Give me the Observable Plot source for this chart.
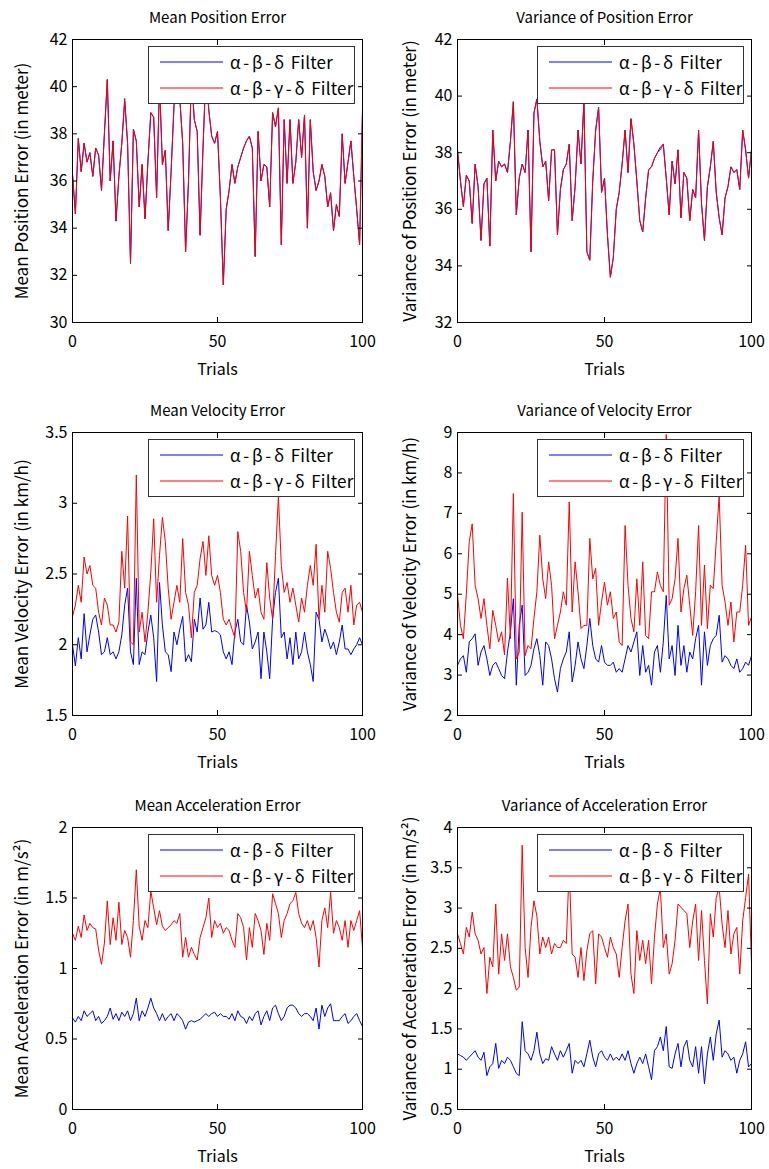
<!DOCTYPE html>
<html>
<head>
<meta charset="utf-8">
<script src="https://cdn.jsdelivr.net/npm/d3@7"></script>
<script src="https://cdn.jsdelivr.net/npm/@observablehq/plot@0.6"></script>
<style>
  body { margin: 0; background: #fff; }
  #root { position: relative; width: 769px; height: 1169px; overflow: hidden; font-family: "Noto Sans CJK JP", "Noto Sans", sans-serif; }
  .panel { position: absolute; }
  .panel svg { display: block; overflow: visible; }
  .legend { position: absolute; width: 207px; height: 58px; box-sizing: border-box; border: 1px solid #333; background: #fff; font-size: 17px; color: #000; }
  .legend .row { position: absolute; left: 0; right: 0; height: 0; }
  .legend svg.sw { position: absolute; left: 11px; top: -2px; overflow: visible; }
  .legend .lbl { position: absolute; left: 81px; top: -12px; line-height: 24px; white-space: nowrap; letter-spacing: 0.2px; }
  .legend .gk { letter-spacing: 2.7px; }
</style>
</head>
<body>
<div id="root"></div>
<script>
// ---------- data ----------
const trialTicks = [0, 50, 100];
const seriesGreek = ["α-β-δ", "α-β-γ-δ"];
const seriesSuffix = " Filter";
const seriesColors = ["#0000ff", "#ff0000"];

const titles = ["Mean Position Error", "Variance of Position Error", "Mean Velocity Error", "Variance of Velocity Error", "Mean Acceleration Error", "Variance of Acceleration Error"];
const yLabels = ["Mean Position Error (in meter)", "Variance of Position Error (in meter)", "Mean Velocity Error (in km/h)", "Variance of Velocity Error (in km/h)", "Mean Acceleration Error (in m/s²)", "Variance of Acceleration Error (in m/s²)"];
const xLabel = "Trials";

const posMeanTicks = [30, 32, 34, 36, 38, 40, 42];
const posVarTicks = [32, 34, 36, 38, 40, 42];
const velMeanTicks = [1.5, 2, 2.5, 3, 3.5];
const velVarTicks = [2, 3, 4, 5, 6, 7, 8, 9];
const accMeanTicks = [0, 0.5, 1, 1.5, 2];
const accVarTicks = [0.5, 1, 1.5, 2, 2.5, 3, 3.5, 4];

const posMeanAbd = [36.3,34.6,37.8,36.4,37.6,36.8,37.2,36.2,37.4,37.1,35.6,38.0,40.3,36.0,37.7,34.3,36.2,37.6,39.4,37.6,32.5,38.2,37.7,34.9,36.7,34.4,36.8,38.9,38.7,35.3,40.2,36.7,37.3,33.9,36.4,39.2,40.5,39.5,37.6,33.0,36.0,40.5,38.6,38.1,33.7,37.4,40.6,39.0,37.9,37.6,38.1,35.3,31.6,34.8,35.6,36.7,35.9,36.6,37.0,37.4,37.7,37.9,37.4,32.8,38.1,36.0,36.7,36.6,34.9,38.9,38.3,39.1,33.3,38.6,35.9,38.6,35.9,36.8,38.6,37.0,38.8,34.0,38.6,36.4,35.6,36.0,36.7,36.2,34.9,35.5,33.9,35.0,34.5,38.0,35.9,36.8,37.7,36.2,34.8,33.3,39.0];
const posMeanAbgd = [36.3,34.6,37.8,36.4,37.6,36.8,37.2,36.2,37.4,37.1,35.6,38.0,40.3,36.0,37.7,34.3,36.2,37.6,39.5,37.6,32.5,38.2,37.7,34.9,36.7,34.4,36.8,38.9,38.7,35.3,40.2,36.7,37.3,33.9,36.4,39.2,40.5,39.5,37.6,33.0,36.0,40.5,38.6,38.1,33.7,37.4,40.6,39.0,37.9,37.6,38.1,35.3,31.6,34.8,35.6,36.7,35.9,36.6,37.0,37.4,37.7,37.9,37.4,32.8,38.1,36.0,36.7,36.6,34.9,38.9,38.3,39.1,33.3,38.6,35.9,38.6,35.9,36.8,38.6,37.0,38.8,34.0,38.6,36.4,35.6,36.0,36.7,36.2,34.9,35.5,33.9,35.0,34.5,38.0,35.9,36.8,37.7,36.2,34.8,33.3,39.0];

const posVarAbd = [38.1,37.0,36.1,37.2,37.0,35.5,37.6,36.8,34.9,36.9,37.1,34.7,38.8,37.0,37.7,37.5,37.6,37.3,38.4,39.8,35.8,37.1,37.6,37.3,38.8,34.5,39.4,39.9,38.4,37.5,37.7,36.3,38.1,38.1,35.1,36.7,37.4,37.6,38.3,35.6,36.8,38.8,37.6,39.8,34.5,34.2,37.0,38.8,39.6,36.6,37.1,35.1,33.6,34.3,36.0,36.6,37.6,38.8,37.3,39.2,38.3,37.0,35.6,35.2,36.4,37.4,37.5,37.8,38.0,38.2,38.3,37.1,35.8,37.7,36.9,38.1,35.7,37.3,37.1,35.6,36.7,36.4,38.8,36.2,34.9,36.8,37.5,38.4,36.6,35.7,35.1,36.4,36.8,37.5,37.3,37.4,36.7,38.8,38.1,37.1,38.1];
const posVarAbgd = [38.1,37.0,36.1,37.2,37.0,35.5,37.6,36.8,34.9,36.9,37.1,34.7,38.8,37.0,37.7,37.5,37.6,37.3,38.4,39.8,35.8,37.1,37.6,37.3,38.8,34.5,39.4,39.9,38.4,37.5,37.7,36.3,38.1,38.1,35.1,36.7,37.4,37.6,38.3,35.6,36.8,38.8,37.6,39.8,34.5,34.2,37.0,38.8,39.6,36.6,37.1,35.1,33.6,34.3,36.0,36.6,37.6,38.8,37.3,39.2,38.3,37.0,35.6,35.2,36.4,37.4,37.5,37.8,38.0,38.1,38.3,37.1,35.8,37.7,36.9,38.1,35.7,37.3,37.1,35.6,36.7,36.4,38.8,36.2,34.9,36.8,37.5,38.4,36.6,35.7,35.1,36.4,36.8,37.5,37.3,37.4,36.7,38.8,38.1,37.1,38.1];

const velMeanAbd = [2.00,1.85,2.05,1.90,2.22,1.95,2.07,2.18,2.21,2.09,1.93,1.95,2.05,1.93,1.95,1.90,1.95,2.07,2.28,2.40,1.95,1.86,2.47,1.86,1.95,1.93,2.09,2.21,2.05,1.74,2.44,2.14,1.95,1.93,1.81,2.09,2.00,2.11,2.20,1.88,1.93,1.88,2.18,2.09,2.33,2.11,2.14,2.30,2.09,2.10,2.09,2.07,1.95,1.90,1.95,1.86,2.09,2.18,2.02,2.00,2.28,2.16,1.97,2.02,2.09,1.76,2.09,1.95,1.76,2.18,2.37,2.47,2.05,2.09,1.90,2.05,1.86,2.09,1.90,1.95,2.09,1.95,1.86,1.74,2.23,2.18,2.02,2.11,2.05,1.97,2.02,1.93,2.02,2.14,1.97,1.97,1.93,1.97,2.00,2.05,2.00];
const velMeanAbgd = [2.20,2.28,2.42,2.30,2.62,2.50,2.56,2.42,2.40,2.23,2.14,2.33,2.28,2.14,2.14,2.09,2.16,2.66,2.40,2.91,2.02,2.00,3.20,2.09,2.23,2.02,2.23,2.51,2.89,2.30,2.63,2.90,2.73,2.40,2.18,2.30,2.42,2.30,2.75,2.37,2.28,2.05,2.37,2.42,2.61,2.73,2.49,2.77,2.49,2.42,2.49,2.37,2.18,2.14,2.18,2.11,2.05,2.80,2.66,2.37,2.23,2.66,2.49,2.33,2.40,2.23,2.18,2.58,2.33,2.18,2.63,3.05,2.56,2.37,2.44,2.30,2.40,2.28,2.16,2.33,2.23,2.42,2.56,2.42,2.71,2.18,2.42,2.23,2.66,2.54,2.37,2.23,2.16,2.37,2.40,2.23,2.42,2.14,2.28,2.30,2.23];

const velVarAbd = [3.24,3.40,3.48,3.07,3.82,3.90,4.02,3.24,3.57,3.73,3.40,2.99,3.24,3.32,3.16,2.99,2.91,3.57,4.07,4.89,2.75,4.23,4.73,2.99,3.07,3.24,3.65,3.90,3.48,2.75,3.82,3.73,3.40,2.91,2.58,3.16,3.40,3.57,4.07,2.83,3.24,3.82,3.40,3.16,3.73,4.40,3.73,3.40,3.32,3.73,3.32,3.24,3.24,3.32,3.07,3.16,3.07,3.40,3.73,3.57,3.82,4.07,2.99,3.73,3.07,3.24,2.75,3.57,3.73,3.07,3.82,4.97,3.40,3.73,2.99,4.23,3.24,3.73,3.07,3.57,3.40,3.90,4.23,2.75,4.07,3.24,3.73,3.90,3.98,4.48,3.32,3.48,3.40,3.24,3.16,3.40,3.07,3.16,3.32,3.24,3.48];
const velVarAbgd = [5.00,4.23,3.90,5.00,6.30,6.74,5.22,4.89,4.40,4.89,4.23,3.65,4.60,4.23,3.82,4.07,3.50,5.40,3.90,7.49,3.40,3.57,7.03,3.48,3.73,3.65,4.40,5.06,6.46,5.38,4.89,5.80,5.22,3.90,4.23,4.56,5.06,4.73,7.28,4.56,5.80,5.06,4.15,4.23,4.23,6.38,5.38,5.64,4.23,4.81,5.30,4.73,5.06,4.40,4.56,3.82,3.73,6.70,5.22,4.40,4.07,5.38,4.23,5.80,3.98,3.90,5.06,5.06,5.55,5.22,5.06,8.95,4.73,4.89,5.38,6.38,4.56,5.14,5.47,4.73,3.98,5.06,6.70,4.23,5.72,4.15,5.22,5.14,6.30,7.45,5.22,4.81,4.23,4.81,3.82,4.56,4.56,5.22,6.21,4.23,4.44];

const accMeanAbd = [0.65,0.62,0.66,0.63,0.70,0.66,0.68,0.70,0.63,0.66,0.61,0.63,0.66,0.72,0.64,0.68,0.63,0.69,0.66,0.70,0.63,0.68,0.79,0.63,0.70,0.66,0.72,0.79,0.72,0.68,0.63,0.68,0.63,0.66,0.68,0.63,0.68,0.66,0.63,0.57,0.62,0.63,0.62,0.63,0.64,0.66,0.68,0.66,0.68,0.69,0.66,0.68,0.66,0.66,0.64,0.68,0.63,0.70,0.66,0.65,0.61,0.66,0.63,0.68,0.70,0.60,0.66,0.70,0.63,0.72,0.74,0.68,0.63,0.66,0.72,0.74,0.74,0.72,0.68,0.66,0.68,0.68,0.66,0.63,0.72,0.57,0.74,0.66,0.72,0.75,0.63,0.63,0.63,0.66,0.68,0.61,0.63,0.66,0.68,0.63,0.59];
const accMeanAbgd = [1.25,1.20,1.30,1.22,1.38,1.27,1.32,1.29,1.28,1.13,1.03,1.18,1.48,1.17,1.36,1.20,1.47,1.17,1.27,1.22,1.08,1.34,1.70,1.30,1.20,1.34,1.29,1.55,1.43,1.31,1.41,1.30,1.27,1.29,1.31,1.34,1.32,1.39,1.08,1.22,1.08,1.15,1.10,1.06,1.22,1.29,1.36,1.50,1.22,1.34,1.29,1.32,1.25,1.29,1.27,1.20,1.15,1.39,1.36,1.29,1.06,1.29,1.15,1.39,1.34,1.27,1.10,1.32,1.20,1.53,1.46,1.39,1.22,1.34,1.39,1.46,1.48,1.54,1.39,1.32,1.29,1.34,1.27,1.34,1.22,1.01,1.34,1.43,1.29,1.54,1.25,1.34,1.29,1.20,1.34,1.15,1.34,1.27,1.34,1.41,1.15];

const accVarAbd = [1.19,1.17,1.15,1.11,1.15,1.19,1.23,1.15,1.11,1.21,0.92,1.03,1.07,1.32,1.01,1.11,1.07,1.15,1.11,1.03,0.95,0.92,1.59,1.23,1.19,1.11,1.23,1.46,1.19,1.07,1.13,1.11,1.28,1.19,1.11,1.23,1.15,1.23,1.32,0.95,1.11,1.07,1.11,1.03,1.19,1.36,1.15,1.03,1.19,1.23,1.15,1.11,1.19,1.11,1.15,1.11,1.19,1.11,1.23,1.07,0.95,1.07,1.15,1.07,1.19,1.03,0.87,1.23,1.28,1.40,1.23,1.53,1.03,1.01,1.19,1.32,1.03,1.28,1.36,1.11,1.03,1.28,0.95,1.28,0.82,1.19,1.40,1.11,1.44,1.61,1.15,1.23,1.19,1.11,1.15,0.95,1.11,1.19,1.34,1.03,1.07];
const accVarAbgd = [2.68,2.56,2.43,2.76,2.64,2.95,2.68,2.60,2.43,2.51,1.94,2.39,2.27,3.05,2.18,2.68,2.35,2.68,2.27,2.14,1.98,2.02,3.78,2.51,2.14,2.76,3.09,2.90,2.43,2.64,2.51,2.64,2.43,2.56,2.51,2.51,2.60,2.56,3.50,2.43,2.39,2.14,2.51,2.10,2.47,2.68,2.72,2.06,2.68,2.64,2.51,2.39,2.64,2.51,2.43,2.14,2.51,2.84,3.05,2.18,1.94,2.72,2.35,2.60,2.31,2.60,2.06,2.64,3.05,3.25,2.51,2.68,2.18,2.31,2.60,3.05,3.01,2.97,2.93,2.51,2.84,3.05,2.35,2.97,2.35,1.81,2.93,2.64,3.13,3.26,2.80,2.51,2.97,2.43,2.68,2.76,2.18,2.84,3.13,3.42,2.31];

// ---------- layout ----------
const cols = [
  {left: 0, w: 384, ml: 72, mr: 22, ylabDx: -50},
  {left: 384, w: 385, ml: 73, mr: 18, ylabDx: -47}
];
const rows = [
  {top: 0, h: 394, mt: 39, mb: 72},
  {top: 394, h: 394, mt: 38, mb: 73},
  {top: 788, h: 381, mt: 39, mb: 60}
];

const panels = [
  {blue: posMeanAbd, red: posMeanAbgd, domain: [30, 42], ticks: posMeanTicks},
  {blue: posVarAbd, red: posVarAbgd, domain: [32, 42], ticks: posVarTicks},
  {blue: velMeanAbd, red: velMeanAbgd, domain: [1.5, 3.5], ticks: velMeanTicks},
  {blue: velVarAbd, red: velVarAbgd, domain: [2, 9], ticks: velVarTicks},
  {blue: accMeanAbd, red: accMeanAbgd, domain: [0, 2], ticks: accMeanTicks},
  {blue: accVarAbd, red: accVarAbgd, domain: [0.5, 4], ticks: accVarTicks}
];

const root = document.getElementById("root");
const font = '"Noto Sans CJK JP", "Noto Sans", sans-serif';
const blank = () => "";
const plain = (d) => String(d);
const SVGNS = "http://www.w3.org/2000/svg";

panels.forEach((p, i) => {
  const c = cols[i % 2], r = rows[Math.floor(i / 2)];
  const svg = Plot.plot({
    width: c.w, height: r.h,
    marginLeft: c.ml, marginRight: c.mr, marginTop: r.mt, marginBottom: r.mb,
    x: {domain: [0, 100]},
    y: {domain: p.domain},
    style: {fontFamily: font, fontSize: "16px", color: "#000", background: "transparent", overflow: "visible"},
    marks: [
      Plot.lineY(p.blue, {stroke: seriesColors[0], strokeWidth: 1}),
      Plot.lineY(p.red, {stroke: seriesColors[1], strokeWidth: 1}),
      Plot.frame({stroke: "#000"}),
      Plot.axisX(trialTicks, {anchor: "bottom", tickSize: -5, tickFormat: blank, label: null}),
      Plot.axisX(trialTicks, {anchor: "top", tickSize: -5, tickFormat: blank, label: null}),
      Plot.axisY(p.ticks, {anchor: "left", tickSize: -5, tickFormat: blank, label: null}),
      Plot.axisY(p.ticks, {anchor: "right", tickSize: -5, tickFormat: blank, label: null}),
      Plot.axisX(trialTicks, {anchor: "bottom", tickSize: 0, tickPadding: 13, tickFormat: plain, label: null}),
      Plot.axisY(p.ticks, {anchor: "left", tickSize: 0, tickPadding: 5, tickFormat: plain, label: null}),
      Plot.text([titles[i]], {text: d => d, frameAnchor: "top", dy: -21, fontSize: 15, lineAnchor: "middle"}),
      Plot.text([yLabels[i]], {text: d => d, frameAnchor: "left", dx: c.ylabDx, rotate: -90, fontSize: 17, lineAnchor: "middle", textAnchor: "middle"}),
      Plot.text([xLabel], {text: d => d, frameAnchor: "bottom", dy: 47, fontSize: 16, lineAnchor: "middle"})
    ]
  });
  const div = document.createElement("div");
  div.className = "panel";
  div.style.left = c.left + "px";
  div.style.top = r.top + "px";
  div.style.width = c.w + "px";
  div.style.height = r.h + "px";
  div.appendChild(svg);

  const lg = document.createElement("div");
  lg.className = "legend";
  lg.style.left = (c.w - c.mr - 7 - 207) + "px";
  lg.style.top = (r.mt + 7) + "px";
  seriesGreek.forEach((gk, k) => {
    const row = document.createElement("div");
    row.className = "row";
    row.style.top = (15 + k * 26) + "px";
    const sw = document.createElementNS(SVGNS, "svg");
    sw.setAttribute("class", "sw");
    sw.setAttribute("width", "63");
    sw.setAttribute("height", "4");
    const ln = document.createElementNS(SVGNS, "line");
    ln.setAttribute("x1", "0"); ln.setAttribute("x2", "63");
    ln.setAttribute("y1", "2"); ln.setAttribute("y2", "2");
    ln.setAttribute("stroke", seriesColors[k]);
    ln.setAttribute("stroke-width", "1");
    sw.appendChild(ln);
    const lb = document.createElement("span");
    lb.className = "lbl";
    const g = document.createElement("span");
    g.className = "gk";
    g.textContent = gk;
    lb.appendChild(g);
    lb.appendChild(document.createTextNode(seriesSuffix));
    row.appendChild(sw);
    row.appendChild(lb);
    lg.appendChild(row);
  });
  div.appendChild(lg);
  root.appendChild(div);
});
</script>
</body>
</html>
